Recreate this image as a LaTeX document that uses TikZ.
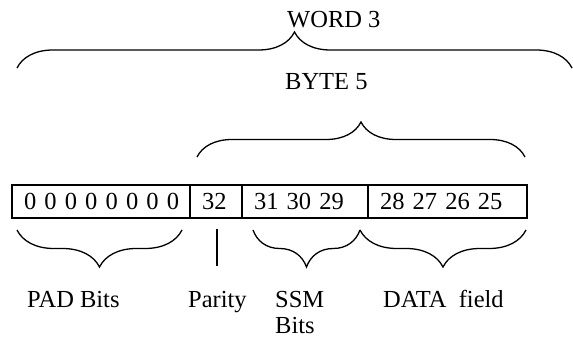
\documentclass[tikz,border=0pt]{standalone}
\usepackage{fontspec}
\setmainfont{Liberation Serif}
\usetikzlibrary{decorations.pathreplacing}

\tikzset{
	txt/.style={font=\fontsize{24.5}{27}\selectfont, inner sep=0pt, anchor=base west},
	cell/.style={draw, line width=1.6pt, minimum height=33pt, outer sep=0pt,
		inner xsep=12pt, inner ysep=0pt, anchor=west, align=left,
		font=\fontsize{24.5}{27}\selectfont},
	brc/.style={decorate, decoration={brace, amplitude=#1}, line width=1.3pt},
}

\begin{document}
\begin{tikzpicture}[x=1pt, y=-1pt]
	\useasboundingbox (0, 0) rectangle (573, 337);
	% the register
	\node[cell, text width=154pt] (pad) at (12, 201.5) {\mbox{0 0 0 0 0 0 0 0}};
	\node[cell, text width=28pt] (par) at (pad.east) {\mbox{32}};
	\node[cell, text width=102pt] (ssm) at (par.east) {\mbox{31 30 29}};
	\node[cell, text width=135pt] (dat) at (ssm.east) {\mbox{28 27 26 25}};
	% upper labels and braces
	\node[txt] (word) at (287, 28) {WORD 3};
	\node[txt] (byte) at (285, 89) {BYTE 5};
	\coordinate (wl) at (17, 68);
	\coordinate (wr) at (572, 68);
	\coordinate (bl) at (197, 157);
	\coordinate (br) at (525, 157);
	\draw[brc=36pt] (wl) -- (wr);
	\draw[brc=35pt] (bl) -- (br);
	% lower braces
	\coordinate (pl) at (17, 230);
	\coordinate (pr) at (182, 230);
	\coordinate (sl) at (253, 230);
	\coordinate (sr) at (360, 230);
	\coordinate (dr) at (526, 230);
	\draw[brc=37pt] (pr) -- (pl);
	\draw[brc=37pt] (sr) -- (sl);
	\draw[brc=37pt] (dr) -- (sr);
	\coordinate (pt) at (217, 229);
	\coordinate (pb) at (217, 266);
	\draw[line width=1.3pt] (pt) -- (pb);
	\node[txt] (padlbl) at (27, 307) {PAD Bits};
	\node[txt] (parlbl) at (188, 307) {Parity};
	\node[txt] (ssmlbl) at (275, 307) {SSM};
	\node[txt] (ssmbits) at (275, 333) {Bits};
	\node[txt] (datlbl) at (383, 307) {DATA~~field};
\end{tikzpicture}
\end{document}
